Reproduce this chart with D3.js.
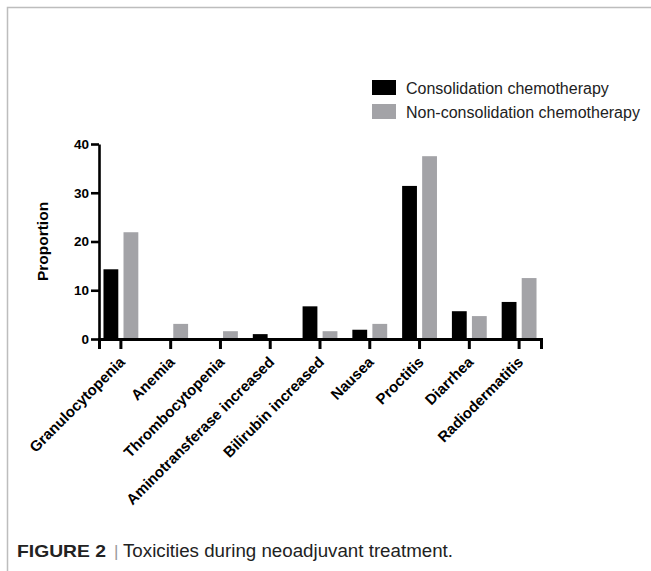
<!DOCTYPE html>
<html>
<head>
<meta charset="utf-8">
<script src="https://cdn.jsdelivr.net/npm/d3@7"></script>
<style>
  body { margin: 0; background: #fff; }
  svg { display: block; font-family: Arial, 'Liberation Sans', Helvetica, sans-serif; }
</style>
</head>
<body>
<svg id="chart" width="651" height="571"></svg>
<script>
const categories = ['Granulocytopenia', 'Anemia', 'Thrombocytopenia', 'Aminotransferase increased',
    'Bilirubin increased', 'Nausea', 'Proctitis', 'Diarrhea', 'Radiodermatitis']
const seriesNames = ['Consolidation chemotherapy', 'Non-consolidation chemotherapy']
const consolidation = [14.3, 0, 0, 1.0, 6.7, 1.9, 31.4, 5.7, 7.6]
const nonConsolidation = [21.9, 3.1, 1.6, 0, 1.6, 3.1, 37.5, 4.7, 12.5]
const yTicks = [0, 10, 20, 30, 40]
const colors = ['#000000', '#a3a3a7']

function main() {
    let svg = d3.select('#chart')
    let series = [consolidation, nonConsolidation]

    // frame
    svg.append('path')
        .attr('d', 'M7.5,571V7.5H651')
        .attr('fill', 'none')
        .attr('stroke', '#bdbdbd')
        .attr('stroke-width', 1.5)

    let left = 99, right = 541, top = 144, bottom = 339

    let x = d3.scaleBand().domain(categories).range([left, right])
        .paddingInner(0.3).paddingOuter(0.09)
    let xs = d3.scaleBand().domain([0, 1]).range([0, x.bandwidth()]).paddingInner(0.26)
    let y = d3.scaleLinear().domain([0, 40]).range([bottom, top])

    let g = svg.append('g')

    // bars
    g.selectAll('.grp')
        .data(categories)
        .enter().append('g')
        .attr('class', 'grp')
        .attr('transform', d => 'translate(' + x(d) + ',0)')
        .selectAll('rect')
        .data((d, i) => series.map((s, k) => ({k: k, v: s[i]})))
        .enter().append('rect')
        .attr('x', d => xs(d.k))
        .attr('width', xs.bandwidth())
        .attr('y', d => y(d.v))
        .attr('height', d => bottom - y(d.v))
        .attr('fill', d => colors[d.k])

    // x axis
    let xAxis = g.append('g')
        .attr('transform', 'translate(0,' + bottom + ')')
        .call(d3.axisBottom(x).tickSizeOuter(0).tickSize(10))
    xAxis.select('.domain').attr('stroke-width', 3)
    xAxis.selectAll('.tick line').attr('stroke-width', 3)
    xAxis.selectAll('.tick text')
        .attr('font-size', 15)
        .attr('font-weight', 'bold')
        .attr('fill', '#000')
        .attr('text-anchor', 'end')
        .attr('y', 0)
        .attr('dy', 0)
        .attr('x', 0)
        .attr('transform', 'translate(5,24) rotate(-45)')

    // y axis
    let yAxis = g.append('g')
        .attr('transform', 'translate(' + left + ',0)')
        .call(d3.axisLeft(y).tickValues(yTicks).tickSize(8).tickSizeOuter(0))
    yAxis.select('.domain').attr('stroke-width', 2.6)
    yAxis.selectAll('.tick line').attr('stroke-width', 2.6)
    yAxis.selectAll('.tick text')
        .attr('font-size', 13.5)
        .attr('font-weight', 'bold')
        .attr('fill', '#000')
        .attr('x', -10)

    g.append('text')
        .attr('transform', 'translate(48,' + ((top + bottom) / 2) + ') rotate(-90)')
        .attr('text-anchor', 'middle')
        .attr('font-size', 15.5)
        .attr('font-weight', 'bold')
        .text('Proportion')

    // legend
    let legend = svg.append('g').attr('transform', 'translate(372,80)')
    let item = legend.selectAll('.item')
        .data(seriesNames)
        .enter().append('g')
        .attr('class', 'item')
        .attr('transform', (d, i) => 'translate(0,' + (i * 24) + ')')
    item.append('rect')
        .attr('width', 24).attr('height', 15)
        .attr('fill', (d, i) => colors[i])
    item.append('text')
        .attr('x', 34).attr('y', 14)
        .attr('font-size', 16)
        .attr('fill', '#222')
        .text(d => d)

    // caption
    svg.append('text')
        .attr('x', 17).attr('y', 557)
        .attr('font-size', 17)
        .attr('font-weight', 'bold')
        .attr('fill', '#222')
        .attr('textLength', 89)
        .attr('lengthAdjust', 'spacingAndGlyphs')
        .text('FIGURE 2')
    svg.append('text')
        .attr('x', 114).attr('y', 557)
        .attr('font-size', 17)
        .attr('fill', '#999')
        .text('|')
    svg.append('text')
        .attr('x', 123).attr('y', 557)
        .attr('font-size', 17.5)
        .attr('fill', '#222')
        .attr('textLength', 330)
        .attr('lengthAdjust', 'spacingAndGlyphs')
        .text('Toxicities during neoadjuvant treatment.')
}

main()
</script>
</body>
</html>
